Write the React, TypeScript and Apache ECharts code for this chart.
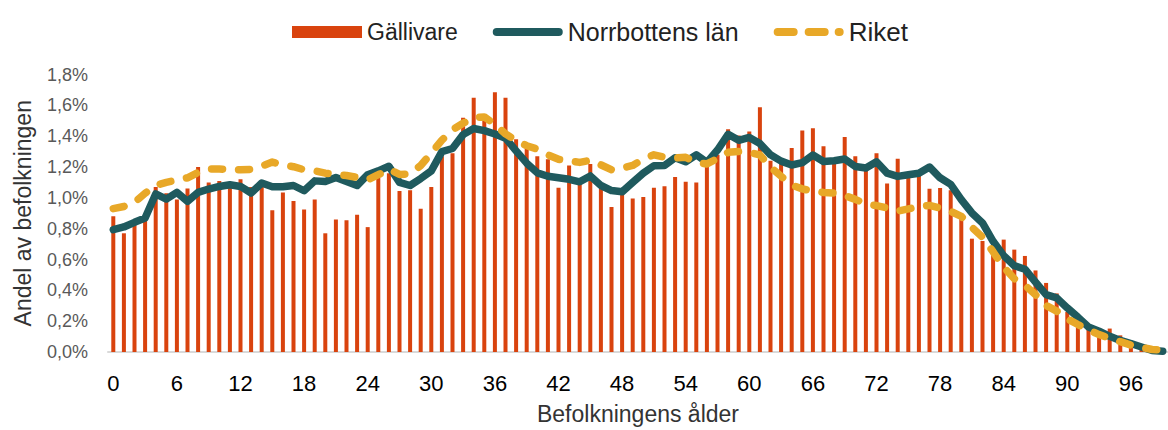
import React, { useEffect, useRef } from "react";
import * as echarts from "echarts";

const ages: string[] = Array.from({ length: 100 }, (_, i) => String(i));

const gallivare: number[] = [
  0.88, 0.77, 0.83, 0.85, 1.07, 1.03, 0.99, 1.06, 1.2, 1.1,
  1.11, 1.09, 1.12, 1.07, 1.08, 0.92, 1.035, 0.98, 0.925, 0.99,
  0.77, 0.86, 0.855, 0.89, 0.81, 1.13, 1.16, 1.045, 1.05, 0.93,
  1.07, 1.27, 1.29, 1.52, 1.65, 1.5, 1.685, 1.65, 1.38, 1.33,
  1.27, 1.25, 1.065, 1.21, 1.12, 1.22, 1.06, 0.94, 1.02, 0.995,
  1.005, 1.065, 1.075, 1.135, 1.105, 1.1, 1.25, 1.28, 1.445, 1.405,
  1.43, 1.587, 1.24, 1.225, 1.324, 1.436, 1.452, 1.334, 1.25, 1.394,
  1.27, 1.19, 1.29, 1.093, 1.253, 1.13, 1.15, 1.059, 1.064, 1.05,
  0.88, 0.735, 0.72, 0.7, 0.729, 0.664, 0.623, 0.529, 0.448, 0.38,
  0.26, 0.21, 0.17, 0.12, 0.152, 0.108, 0.07, 0.045, 0.02, 0.01,
];

const norrbotten: number[] = [
  0.793, 0.811, 0.841, 0.869, 1.025, 0.992, 1.035, 0.977, 1.035, 1.057,
  1.074, 1.085, 1.074, 1.031, 1.096, 1.072, 1.072, 1.08, 1.046, 1.11,
  1.106, 1.132, 1.106, 1.08, 1.15, 1.175, 1.205, 1.1, 1.08, 1.125,
  1.175, 1.3, 1.32, 1.41, 1.45, 1.436, 1.414, 1.387, 1.305, 1.225,
  1.162, 1.14, 1.13, 1.12, 1.104, 1.142, 1.08, 1.047, 1.039, 1.1,
  1.16, 1.208, 1.209, 1.26, 1.234, 1.279, 1.23, 1.31, 1.412, 1.373,
  1.392, 1.352, 1.279, 1.238, 1.213, 1.228, 1.278, 1.236, 1.241, 1.252,
  1.203, 1.193, 1.234, 1.16, 1.139, 1.15, 1.16, 1.2, 1.13, 1.087,
  0.988, 0.902, 0.837, 0.718, 0.625, 0.56, 0.537, 0.453, 0.372, 0.351,
  0.286, 0.226, 0.162, 0.135, 0.102, 0.075, 0.055, 0.032, 0.01, 0.005,
];

const riket: number[] = [
  0.93, 0.944, 0.97, 1.03, 1.08, 1.1, 1.115, 1.13, 1.165, 1.188,
  1.187, 1.184, 1.182, 1.185, 1.205, 1.232, 1.214, 1.202, 1.182, 1.175,
  1.16, 1.15, 1.145, 1.132, 1.117, 1.15, 1.185, 1.152, 1.155, 1.21,
  1.29, 1.374, 1.441, 1.484, 1.52, 1.525, 1.476, 1.415, 1.37, 1.338,
  1.316, 1.279, 1.25, 1.24, 1.23, 1.243, 1.214, 1.182, 1.193, 1.21,
  1.252, 1.279, 1.263, 1.258, 1.263, 1.23, 1.22, 1.255, 1.295, 1.3,
  1.294, 1.279, 1.198, 1.14, 1.082, 1.058, 1.043, 1.035, 1.031, 1.015,
  0.99, 0.96, 0.95, 0.935, 0.914, 0.928, 0.944, 0.951, 0.934, 0.912,
  0.88, 0.808, 0.745, 0.65, 0.55, 0.475, 0.433, 0.372, 0.302, 0.265,
  0.215, 0.178, 0.143, 0.113, 0.088, 0.067, 0.045, 0.03, 0.016, 0.014,
];

const seriesNames = ["Gällivare", "Norrbottens län", "Riket"];
const FONT = "'Liberation Sans', Arial, sans-serif";

const seg = (x0: number, x1: number) =>
  `M${x0 + 4} 2 H${x1 - 4} A4 4 0 0 1 ${x1 - 4} 10 H${x0 + 4} A4 4 0 0 1 ${x0 + 4} 2 Z `;
const solidIcon = "path://M0 0 M70 12 " + seg(0, 70);
const dashIcon = "path://M0 0 M70 12 " + seg(0, 24) + seg(31, 55) + seg(61, 70);

export default function App() {
  const ref = useRef<HTMLDivElement>(null);
  useEffect(() => {
    if (!ref.current) return;
    const chart = echarts.init(ref.current, undefined, { renderer: "svg" });
    chart.setOption({
      animation: false,
      textStyle: { fontFamily: FONT },
      legend: {
        left: 287,
        top: 14,
        itemWidth: 70,
        itemHeight: 12,
        itemGap: 35,
        textStyle: { fontSize: 23, color: "#222", fontFamily: FONT },
        data: [
          { name: seriesNames[0], icon: "rect" },
          { name: seriesNames[1], icon: solidIcon, textStyle: { fontSize: 25 } },
          { name: seriesNames[2], icon: dashIcon, textStyle: { fontSize: 26 } },
        ],
      },
      grid: { left: 108, right: -2, top: 74.5, bottom: 77.5 },
      xAxis: {
        type: "category",
        data: ages,
        boundaryGap: true,
        axisLine: { lineStyle: { color: "#d9d9d9", width: 2 } },
        axisTick: { show: false },
        axisLabel: {
          interval: 5,
          margin: 20,
          fontSize: 22,
          color: "#000",
          fontFamily: FONT,
        },
        name: "Befolkningens ålder",
        nameLocation: "middle",
        nameGap: 50,
        nameTextStyle: { fontSize: 23, color: "#333", fontFamily: FONT },
      },
      yAxis: {
        type: "value",
        min: 0,
        max: 1.8,
        interval: 0.2,
        splitLine: { show: false },
        axisLine: { show: false },
        axisTick: { show: false },
        axisLabel: {
          margin: 20,
          fontSize: 18,
          color: "#595959",
          fontFamily: FONT,
          formatter: (v: number) => v.toFixed(1).replace(".", ",") + "%",
        },
        name: "Andel av befolkningen",
        nameLocation: "middle",
        nameRotate: 90,
        nameGap: 74,
        nameTextStyle: { fontSize: 23, color: "#333", fontFamily: FONT },
      },
      series: [
        {
          name: seriesNames[0],
          type: "bar",
          data: gallivare,
          barWidth: 4,
          itemStyle: { color: "#D9430E" },
        },
        {
          name: seriesNames[1],
          type: "line",
          data: norrbotten,
          symbol: "none",
          lineStyle: { color: "#1F5A5E", width: 7.5, cap: "round", join: "round" },
          itemStyle: { color: "#1F5A5E" },
          z: 3,
        },
        {
          name: seriesNames[2],
          type: "line",
          data: riket,
          symbol: "none",
          lineStyle: {
            color: "#E8A828",
            width: 7.5,
            type: [11, 16],
            cap: "round",
            join: "round",
          },
          itemStyle: { color: "#E8A828" },
          z: 4,
        },
      ],
    });
    return () => chart.dispose();
  }, []);
  return (
    <div
      ref={ref}
      style={{ position: "absolute", left: 0, top: 0, width: 1168, height: 430 }}
    />
  );
}
